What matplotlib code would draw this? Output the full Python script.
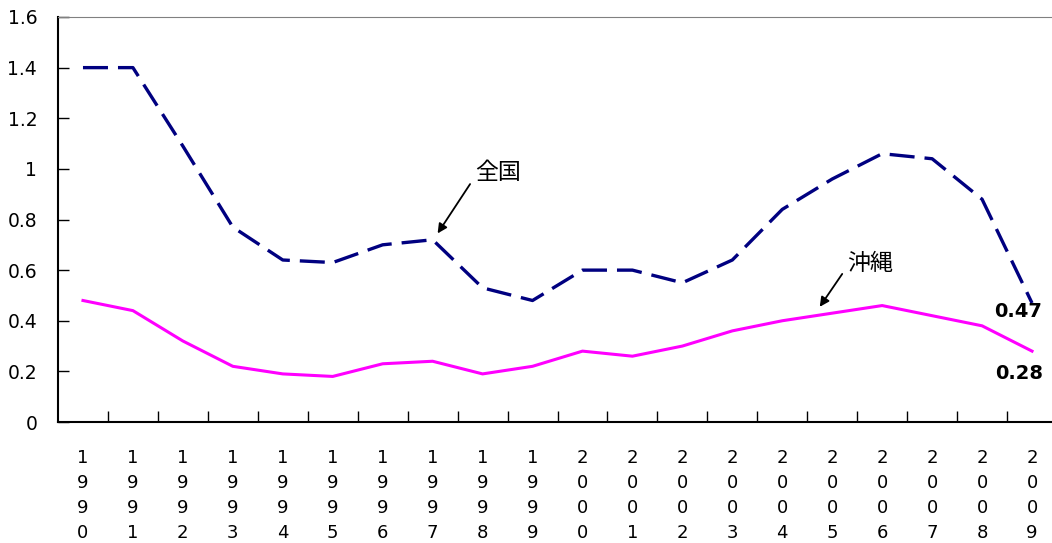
import matplotlib.pyplot as plt

# 年別の値（全国・沖縄）
years = [str(y) for y in range(1990, 2010)]
zenkoku = [1.40, 1.40, 1.09, 0.77, 0.64, 0.63, 0.70, 0.72, 0.53, 0.48,
           0.60, 0.60, 0.55, 0.64, 0.84, 0.96, 1.06, 1.04, 0.88, 0.47]
okinawa = [0.48, 0.44, 0.32, 0.22, 0.19, 0.18, 0.23, 0.24, 0.19, 0.22,
           0.28, 0.26, 0.30, 0.36, 0.40, 0.43, 0.46, 0.42, 0.38, 0.28]

plt.rcParams['font.family'] = ['DejaVu Sans', 'Noto Sans CJK JP']

fig = plt.figure(figsize=(10.52, 5.43), dpi=100)
ax = fig.add_axes([58 / 1052, 121 / 543, 999 / 1052, 405 / 543])

x = list(range(len(years)))
ax.plot(x, zenkoku, color='#000080', lw=2.4, dashes=(7.5, 3))
ax.plot(x, okinawa, color='#ff00ff', lw=2.2)

ax.set_xlim(-0.5, len(years) - 0.5)
ax.set_ylim(0, 1.6)
ax.set_yticks([0, 0.2, 0.4, 0.6, 0.8, 1.0, 1.2, 1.4, 1.6])
ax.set_yticklabels(['0', '0.2', '0.4', '0.6', '0.8', '1', '1.2', '1.4', '1.6'], fontsize=13.5)

# 目盛りは年の境目に、年ラベルは縦書き
ax.set_xticks([i + 0.5 for i in x[:-1]])
ax.set_xticklabels([])
ax.set_xticks(x, minor=True)
ax.set_xticklabels(['\n'.join(y) for y in years], minor=True, fontsize=13,
                   linespacing=1.5, va='top')
ax.tick_params(axis='x', which='minor', length=0, pad=19.5)
ax.tick_params(axis='x', which='major', direction='in', length=8, width=1)
ax.tick_params(axis='y', direction='in', length=8, width=1, pad=15)

ax.spines['top'].set_color('#808080')
ax.spines['right'].set_visible(False)
for s in ['left', 'bottom']:
    ax.spines[s].set_linewidth(1.5)

arrow = dict(arrowstyle='-|>', color='black', lw=1.3, shrinkA=0, shrinkB=0,
             mutation_scale=14)
ax.text(7.86, 0.984, '全国', fontsize=16.5, family=['Noto Sans CJK JP'],
        ha='left', va='center')
ax.annotate('', xy=(7.1, 0.745), xytext=(7.75, 0.94), arrowprops=arrow)
ax.text(15.3, 0.628, '沖縄', fontsize=16.5, family=['Noto Sans CJK JP'],
        ha='left', va='center')
ax.annotate('', xy=(14.75, 0.455), xytext=(15.2, 0.585), arrowprops=arrow)

ax.text(18.73, zenkoku[-1] - 0.035, f'{zenkoku[-1]:.2f}', fontsize=14,
        fontweight='bold', ha='center', va='center')
ax.text(18.75, okinawa[-1] - 0.088, f'{okinawa[-1]:.2f}', fontsize=14,
        fontweight='bold', ha='center', va='center')

fig.savefig('out.png', dpi=100)
